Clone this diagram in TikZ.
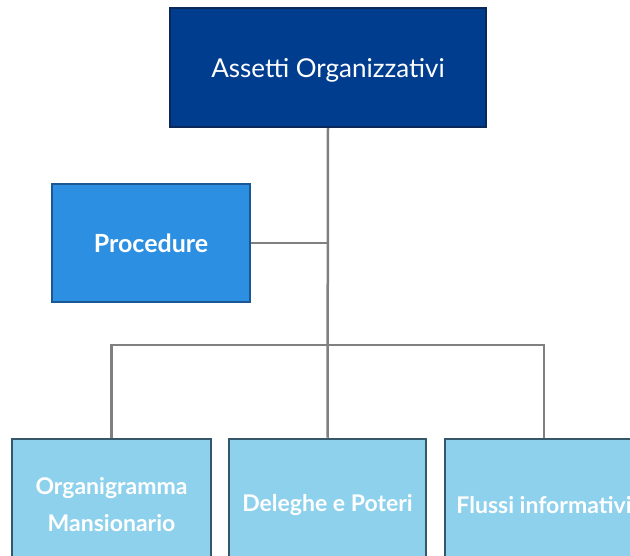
\documentclass[tikz,border=0pt]{standalone}
\usepackage{fontspec}
\setmainfont{Lato}
\usetikzlibrary{positioning}
\definecolor{navyfill}{RGB}{0,61,142}
\definecolor{navyline}{RGB}{12,40,88}
\definecolor{midfill}{RGB}{45,143,225}
\definecolor{midline}{RGB}{26,88,148}
\definecolor{lightfill}{RGB}{141,209,236}
\definecolor{lightline}{RGB}{53,87,106}
\definecolor{linkgray}{RGB}{128,128,128}

\begin{document}
\begin{tikzpicture}[x=1pt, y=1pt,
    box/.style={draw, line width=2.5pt, text=white, align=center, inner sep=0pt},
    leaf/.style={box, fill=lightfill, draw=lightline, minimum height=132pt,
                 font=\fontsize{23}{37}\selectfont\bfseries},
    link/.style={draw=linkgray, line width=2.5pt}]
    % Frame
    \useasboundingbox (0,0) rectangle (630,555);
    \clip (0,0) rectangle (630,555);

    % Top level
    \node[box, fill=navyfill, draw=navyline, minimum width=316pt, minimum height=119pt,
          text depth=0pt, font=\fontsize{26}{31}\selectfont] (assetti) at (328,487.5) {Assetti Organizzativi};

    % Side box
    \node[box, fill=midfill, draw=midline, minimum width=198pt, minimum height=118pt,
          font=\fontsize{25}{30}\selectfont\bfseries] (proc) at (151,312) {Procedure};

    % Bottom row
    \node[leaf, minimum width=199pt] (organ) at (111.5,50) {Organigramma\\Mansionario};
    \node[leaf, minimum width=197pt] (deleghe) at (327.5,50) {Deleghe e Poteri};
    \node[leaf, minimum width=198pt] (flussi) at (544,50) {Flussi informativi};

    % Connectors
    \coordinate (split) at (assetti.south |- 0,210);
    \draw[link] (assetti.south) -- (deleghe.north);
    \draw[link] (proc.east) -- (proc.east -| assetti.south);
    \draw[link] (organ.north) |- (split) -| (flussi.north);
\end{tikzpicture}
\end{document}
